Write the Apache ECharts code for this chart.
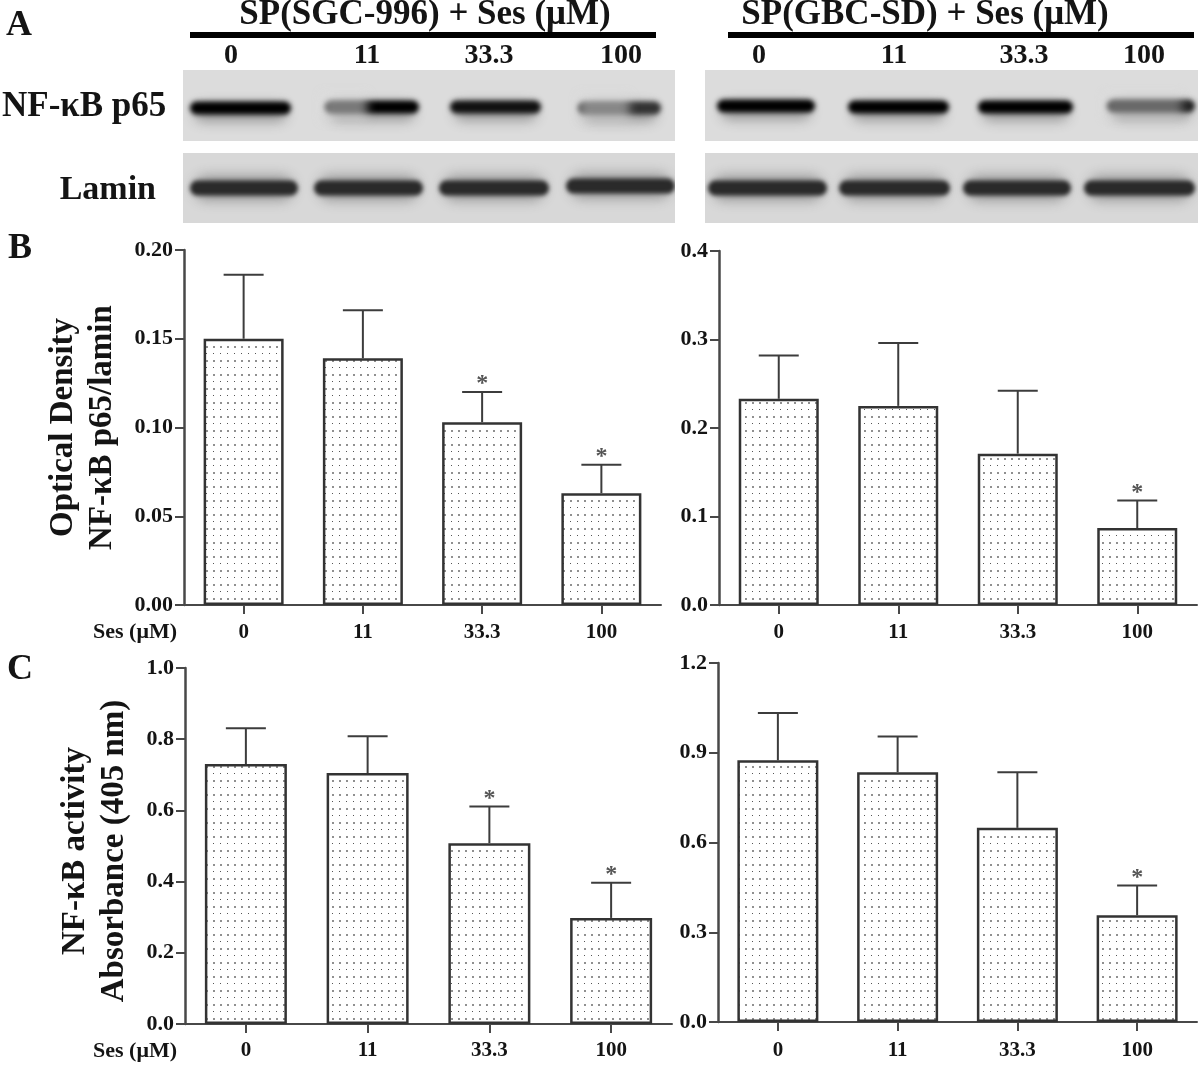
<!DOCTYPE html>
<html>
<head>
<meta charset="utf-8">
<style>html,body{margin:0;padding:0;background:#fff}#c{width:1200px;height:1067px;filter:blur(0.45px)}</style>
<script src="https://cdn.jsdelivr.net/npm/echarts@6/dist/echarts.min.js"></script>
</head>
<body>
<div id="c"></div>
<script>
// ---- data ----
const categories = ['0', '11', '33.3', '100'];

const sgcDensityMean = [0.150, 0.139, 0.103, 0.063];
const sgcDensityUpper = [0.186, 0.166, 0.120, 0.079];
const sgcDensitySig = [false, false, true, true];
const sgcDensityTicks = { max: 0.20, step: 0.05, digits: 2 };

const gbcDensityMean = [0.233, 0.225, 0.171, 0.087];
const gbcDensityUpper = [0.282, 0.296, 0.242, 0.118];
const gbcDensitySig = [false, false, false, true];
const gbcDensityTicks = { max: 0.4, step: 0.1, digits: 1 };

const sgcActivityMean = [0.730, 0.705, 0.508, 0.298];
const sgcActivityUpper = [0.831, 0.808, 0.611, 0.397];
const sgcActivitySig = [false, false, true, true];
const sgcActivityTicks = { max: 1.0, step: 0.2, digits: 1 };

const gbcActivityMean = [0.875, 0.835, 0.649, 0.357];
const gbcActivityUpper = [1.033, 0.954, 0.835, 0.456];
const gbcActivitySig = [false, false, false, true];
const gbcActivityTicks = { max: 1.2, step: 0.3, digits: 1 };

// ---- layout and style ----
const FONT = '"Liberation Serif","Times New Roman",serif';
const INK = '#141414';
const AXIS = '#484848';

const panels = [
  { mean: sgcDensityMean, upper: sgcDensityUpper, sig: sgcDensitySig, ticks: sgcDensityTicks,
    left: 184, right: 661, top: 250, bottom: 605, barWidth: 80, labelMargin: 17,
    name: 'Optical Density\nNF-\u03BAB p65/lamin', nameGap: 62, namePadding: [0, 0, 0, 0] },
  { mean: gbcDensityMean, upper: gbcDensityUpper, sig: gbcDensitySig, ticks: gbcDensityTicks,
    left: 719, right: 1197, top: 251, bottom: 605, barWidth: 80, labelMargin: 17 },
  { mean: sgcActivityMean, upper: sgcActivityUpper, sig: sgcActivitySig, ticks: sgcActivityTicks,
    left: 185, right: 672, top: 668, bottom: 1024, barWidth: 82, labelMargin: 16,
    name: 'NF-\u03BAB activity\nAbsorbance (405 nm)', nameGap: 51, namePadding: [0, 10, 0, 0] },
  { mean: gbcActivityMean, upper: gbcActivityUpper, sig: gbcActivitySig, ticks: gbcActivityTicks,
    left: 718, right: 1197, top: 663, bottom: 1022, barWidth: 81, labelMargin: 18 }
];

function dotPattern() {
  const t = document.createElement('canvas');
  t.width = 7; t.height = 14;
  const g = t.getContext('2d');
  g.fillStyle = '#ffffff'; g.fillRect(0, 0, 7, 14);
  g.fillStyle = '#555555'; g.fillRect(3, 3, 1, 1);
  g.fillStyle = '#909090'; g.fillRect(3, 10, 2, 2);
  return t;
}
const pattern = { image: dotPattern(), repeat: 'repeat' };

function errorItem(sig) {
  return function (params, api) {
    const top = api.coord([api.value(0), api.value(2)]);
    const base = api.coord([api.value(0), api.value(1)]);
    const lineStyle = { stroke: '#3c3c3c', lineWidth: 2, fill: null };
    const children = [
      { type: 'line', shape: { x1: base[0], y1: base[1], x2: top[0], y2: top[1] }, style: lineStyle },
      { type: 'line', shape: { x1: top[0] - 20, y1: top[1], x2: top[0] + 20, y2: top[1] }, style: lineStyle }
    ];
    if (sig[params.dataIndex]) {
      children.push({
        type: 'text',
        style: { x: top[0], y: top[1] - 8, text: '*', fill: '#555', align: 'center', verticalAlign: 'middle',
                 font: 'bold 24px ' + FONT }
      });
    }
    return { type: 'group', children: children };
  };
}

const grid = [], xAxis = [], yAxis = [], series = [];
panels.forEach(function (p, i) {
  grid.push({ left: p.left, width: p.right - p.left, top: p.top, height: p.bottom - p.top, containLabel: false });
  xAxis.push({
    type: 'category', gridIndex: i, data: categories,
    axisLine: { show: true, lineStyle: { color: AXIS, width: 2 } },
    axisTick: { show: true, alignWithLabel: true, length: 9, lineStyle: { color: AXIS, width: 2 } },
    axisLabel: { color: INK, fontFamily: FONT, fontWeight: 'bold', fontSize: 21, margin: p.labelMargin },
    splitLine: { show: false }
  });
  yAxis.push({
    type: 'value', gridIndex: i, min: 0, max: p.ticks.max, interval: p.ticks.step,
    name: p.name || '', nameLocation: 'middle', nameRotate: 90, nameGap: p.nameGap || 0,
    nameTextStyle: { color: INK, fontFamily: FONT, fontWeight: 'bold', fontSize: 33, lineHeight: 39,
                     padding: p.namePadding || 0 },
    axisLine: { show: true, lineStyle: { color: AXIS, width: 2.5 } },
    axisTick: { show: true, length: 9, lineStyle: { color: AXIS, width: 2 } },
    axisLabel: { color: INK, fontFamily: FONT, fontWeight: 'bold', fontSize: 22, margin: 11,
                 formatter: function (v) { return v.toFixed(p.ticks.digits); } },
    splitLine: { show: false }
  });
  series.push({
    type: 'bar', xAxisIndex: i, yAxisIndex: i, data: p.mean, barWidth: p.barWidth,
    itemStyle: { color: pattern, borderColor: '#333', borderWidth: 2.5 }, silent: true
  });
  series.push({
    type: 'custom', xAxisIndex: i, yAxisIndex: i, clip: false, silent: true, z: 3,
    data: p.mean.map(function (m, k) { return [k, m, p.upper[k]]; }),
    encode: { x: 0, y: [1, 2] },
    renderItem: errorItem(p.sig)
  });
});

// ---- western blot panels (image-like decoration, not data marks) ----
const blotRows = [
  { y: 70, h: 71, bg: '#dcdcdc', fade: '220,220,220', band: 13, blur: 5, halo: 'rgba(70,70,70,0.42)', haloShift: 5, haloH: 18 },
  { y: 153, h: 70, bg: '#d8d8d8', fade: '216,216,216', band: 15, blur: 4, halo: 'rgba(70,70,70,0.40)', haloShift: 0, haloH: 26 }
];
const blotPanels = [{ x: 183, w: 492 }, { x: 705, w: 493 }];
// [row, x0, x1, yCenter, tone, fadeFrom, fadeTo, fadeAlpha]
const blotBands = [
  [0, 190, 291, 108, '#000'],
  [0, 325, 419, 107, '#000', 0, 0.45, 0.55],
  [0, 450, 541, 107, '#111'],
  [0, 578, 661, 108, '#333', 0.05, 0.62, 0.5],
  [0, 717, 815, 106, '#000'],
  [0, 848, 949, 107, '#000'],
  [0, 978, 1073, 107, '#000'],
  [0, 1107, 1195, 106, '#222', 0, 0.85, 0.38],
  [1, 190, 298, 188, '#2a2a2a'],
  [1, 314, 423, 188, '#2a2a2a'],
  [1, 439, 549, 188, '#2a2a2a'],
  [1, 566, 675, 186, '#2a2a2a'],
  [1, 708, 827, 188, '#2a2a2a'],
  [1, 839, 950, 188, '#2a2a2a'],
  [1, 963, 1071, 188, '#2a2a2a'],
  [1, 1084, 1195, 188, '#2a2a2a']
];
const FAR = 3000; // soft shapes: the body sits off-canvas, only its blurred shadow lands in place

function softRect(x, y, w, h, r, color, blur, z) {
  return { type: 'rect', z: z, silent: true,
    shape: { x: x - FAR, y: y, width: w, height: h, r: r },
    style: { fill: '#000', shadowBlur: blur, shadowColor: color, shadowOffsetX: FAR } };
}

const graphics = [];
blotPanels.forEach(function (pn) {
  blotRows.forEach(function (r) {
    graphics.push({ type: 'rect', z: 0, silent: true, shape: { x: pn.x, y: r.y, width: pn.w, height: r.h },
      style: { fill: r.bg } });
  });
});
blotBands.forEach(function (b) {
  const r = blotRows[b[0]];
  const x = b[1], w = b[2] - b[1], cy = b[3];
  graphics.push(softRect(x + 4, cy - r.haloH / 2 + r.haloShift, w - 8, r.haloH, r.haloH / 2, r.halo, 12, 1));
  graphics.push(softRect(x, cy - r.band / 2, w, r.band, r.band / 2, b[4], r.blur, 2));
  if (b[7]) {
    graphics.push(softRect(x + w * b[5] - 3, cy - r.band, w * (b[6] - b[5]) + 3, r.band * 2, 4,
      'rgba(' + r.fade + ',' + b[7] + ')', 10, 2));
  }
});
[[0, 141, 1200, 12], [0, 223, 1200, 12], [675, 60, 30, 170], [1198, 60, 2, 170], [0, 60, 183, 170]].forEach(function (m) {
  graphics.push({ type: 'rect', z: 3, silent: true, shape: { x: m[0], y: m[1], width: m[2], height: m[3] },
    style: { fill: '#fff' } });
});

// header rules
[[190, 656], [728, 1194]].forEach(function (s) {
  graphics.push({ type: 'rect', z: 4, silent: true, shape: { x: s[0], y: 32, width: s[1] - s[0], height: 6 },
    style: { fill: '#000' } });
});

function label(text, x, y, size, align) {
  graphics.push({ type: 'text', z: 5, silent: true, x: x, y: y,
    style: { text: text, fill: INK, align: align || 'center', verticalAlign: 'middle',
             font: 'bold ' + size + 'px ' + FONT } });
}
label('A', 19, 26, 36);
label('B', 20, 249, 36);
label('C', 20, 670, 36);
label('SP(SGC-996) + Ses (\u03BCM)', 425, 15, 35);
label('SP(GBC-SD) + Ses (\u03BCM)', 925, 15, 35);
[[231, 367, 489, 621], [759, 894, 1024, 1144]].forEach(function (xs) {
  xs.forEach(function (x, i) { label(categories[i], x, 56, 28); });
});
label('NF-\u03BAB p65', 2, 107, 35, 'left');
label('Lamin', 156, 190, 34, 'right');
label('Ses (\u03BCM)', 177, 632, 22, 'right');
label('Ses (\u03BCM)', 177, 1051, 22, 'right');

const chart = echarts.init(document.getElementById('c'), null, { renderer: 'canvas' });
chart.setOption({
  animation: false,
  backgroundColor: '#ffffff',
  grid: grid, xAxis: xAxis, yAxis: yAxis, series: series,
  graphic: { elements: graphics }
});
</script>
</body>
</html>
